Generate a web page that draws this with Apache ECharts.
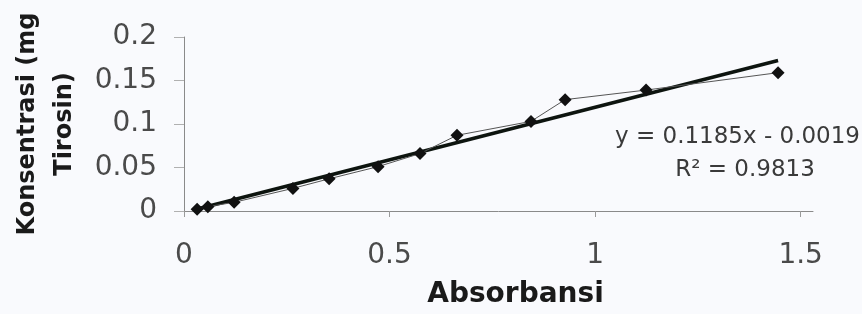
<!DOCTYPE html>
<html>
<head>
<meta charset="utf-8">
<script src="https://cdn.jsdelivr.net/npm/echarts@6/dist/echarts.min.js"></script>
<style>
  html, body { margin: 0; padding: 0; background: #f9fafd; }
  #chart { width: 862px; height: 314px; }
</style>
</head>
<body>
<div id="chart"></div>
<script>
// absorbansi (x) vs konsentrasi (y)
const absorbansi = [0.032, 0.058, 0.122, 0.265, 0.353, 0.472, 0.574, 0.664, 0.844, 0.927, 1.124, 1.445];
const konsentrasi = [0.002, 0.005, 0.010, 0.026, 0.037, 0.051, 0.066, 0.087, 0.103, 0.128, 0.139, 0.159];
// linear trend line ends
const trendX = [0.03, 1.445];
const trendY = [0.002, 0.173];
const xTicks = [0, 0.5, 1, 1.5];
const yTicks = [0, 0.05, 0.1, 0.15, 0.2];
const equationText = 'y = 0.1185x - 0.0019';
const r2Text = 'R² = 0.9813';

const chart = echarts.init(document.getElementById('chart'));

let points = absorbansi.map((x, i) => [x, konsentrasi[i]]);
let trend = trendX.map((x, i) => [x, trendY[i]]);

const fontFam = 'DejaVu Sans, sans-serif';

var option = {
  backgroundColor: '#f9fafd',
  animation: false,
  grid: { left: 184, right: 49, top: 37, bottom: 102 },
  xAxis: {
    type: 'value',
    min: xTicks[0],
    max: 1.53,
    interval: 0.5,
    name: 'Absorbansi',
    nameLocation: 'middle',
    nameGap: 70,
    nameTextStyle: { fontFamily: fontFam, fontWeight: 'bold', fontSize: 28, color: '#1a1a1a', padding: [0, 0, 0, 34] },
    axisLine: { lineStyle: { color: '#8a8a8a', width: 1 } },
    axisTick: { show: true, length: 6, lineStyle: { color: '#9a9a9a' } },
    axisLabel: { fontFamily: fontFam, fontSize: 28, color: '#4a4a4a', margin: 31, showMaxLabel: false },
    splitLine: { show: false }
  },
  yAxis: {
    type: 'value',
    min: yTicks[0],
    max: yTicks[yTicks.length - 1],
    interval: 0.05,
    name: 'Konsentrasi (mg\nTirosin)',
    nameLocation: 'middle',
    nameRotate: 90,
    nameGap: 100,
    nameTextStyle: { fontFamily: fontFam, fontWeight: 'bold', fontSize: 24, lineHeight: 37, color: '#1a1a1a', align: 'center' },
    axisLine: { show: true, lineStyle: { color: '#8a8a8a', width: 1 } },
    axisTick: { show: true, length: 10, lineStyle: { color: '#b0b0b0' } },
    axisLabel: { fontFamily: fontFam, fontSize: 28, color: '#4a4a4a', margin: 27 },
    splitLine: { show: false }
  },
  series: [
    {
      name: 'data',
      type: 'line',
      data: points,
      symbol: 'diamond',
      symbolSize: 13,
      itemStyle: { color: '#111' },
      lineStyle: { color: '#555', width: 1 },
      z: 3
    },
    {
      name: 'trend',
      type: 'line',
      data: trend,
      symbol: 'none',
      lineStyle: { color: '#0d140f', width: 3.5 },
      z: 2
    }
  ],
  graphic: [
    {
      type: 'text',
      x: 860,
      y: 137,
      style: { text: equationText, fontFamily: fontFam, fontSize: 23, fill: '#3a3a3a', textAlign: 'right', textVerticalAlign: 'middle' }
    },
    {
      type: 'text',
      x: 745,
      y: 170,
      style: { text: r2Text, fontFamily: fontFam, fontSize: 23, fill: '#3a3a3a', textAlign: 'center', textVerticalAlign: 'middle' }
    }
  ]
};

chart.setOption(option);
</script>
</body>
</html>
